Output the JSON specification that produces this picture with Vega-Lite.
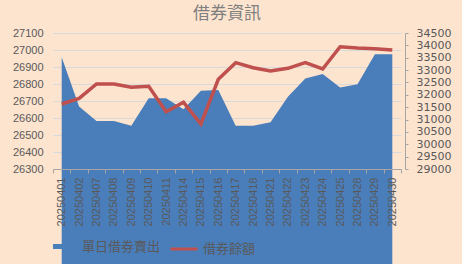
{
  "$schema": "https://vega.github.io/schema/vega-lite/v6.json",
  "autosize": "none",
  "width": 348,
  "height": 136,
  "padding": {"left": 53, "top": 33, "right": 61, "bottom": 95},
  "background": "#fde4cf",
  "title": {"text": "借券資訊", "font": "Noto Sans CJK TC", "fontSize": 17, "fontWeight": "normal", "color": "#7f7f7f", "offset": 4, "anchor": "middle"},
  "config": {
    "view": {"stroke": null},
    "axis": {"labelFont": "Liberation Sans", "labelColor": "#595959", "domainColor": "#a6a6a6", "tickColor": "#a6a6a6", "gridColor": "#d9d9d9"},
    "legend": {"labelFont": "Noto Sans CJK TC", "labelFontSize": 13, "labelColor": "#595959", "labelOffset": 4, "padding": 0}
  },
  "data": {"values": [
    {"date": "20250401", "sell": 26957, "balance": 31630},
    {"date": "20250402", "sell": 26667, "balance": 31858},
    {"date": "20250407", "sell": 26582, "balance": 32438},
    {"date": "20250408", "sell": 26582, "balance": 32438},
    {"date": "20250409", "sell": 26555, "balance": 32304},
    {"date": "20250410", "sell": 26716, "balance": 32344},
    {"date": "20250411", "sell": 26716, "balance": 31317},
    {"date": "20250414", "sell": 26652, "balance": 31697},
    {"date": "20250415", "sell": 26760, "balance": 30820},
    {"date": "20250416", "sell": 26765, "balance": 32627},
    {"date": "20250417", "sell": 26555, "balance": 33300},
    {"date": "20250418", "sell": 26555, "balance": 33097},
    {"date": "20250421", "sell": 26575, "balance": 32963},
    {"date": "20250422", "sell": 26725, "balance": 33071},
    {"date": "20250423", "sell": 26833, "balance": 33300},
    {"date": "20250424", "sell": 26859, "balance": 33044},
    {"date": "20250425", "sell": 26780, "balance": 33946},
    {"date": "20250428", "sell": 26798, "balance": 33893},
    {"date": "20250429", "sell": 26975, "balance": 33866},
    {"date": "20250430", "sell": 26975, "balance": 33812}
  ]},
  "encoding": {
    "x": {"field": "date", "type": "ordinal", "sort": null,
      "scale": {"type": "band", "paddingInner": 0, "paddingOuter": 0},
      "axis": {"title": null, "labelAngle": 270, "labelAlign": "right", "labelBaseline": "middle", "labelFontSize": 11, "labelOverlap": false, "labelBound": false, "labelLimit": 0, "labelSeparation": 0, "tickBand": "extent", "tickSize": 4, "labelPadding": 4, "grid": false, "zindex": 2}}
  },
  "layer": [
    {
      "mark": {"type": "area", "opacity": 1},
      "encoding": {
        "y": {"field": "sell", "type": "quantitative",
          "scale": {"domain": [26300, 27100], "nice": false, "zero": false},
          "axis": {"title": null, "format": "d", "values": [26300, 26400, 26500, 26600, 26700, 26800, 26900, 27000, 27100], "domain": false, "ticks": false, "labelPadding": 10, "labelFontSize": 11, "grid": true}},
        "fill": {"datum": "單日借券賣出", "type": "nominal",
          "scale": {"range": ["#4a7ebb"]},
          "legend": {"orient": "bottom", "direction": "horizontal", "offset": 8, "title": "　　　　", "titleOrient": "left", "titleFontSize": 17, "titlePadding": 0, "zindex": 3, "symbolType": "M-1,-0.2H1V0.2H-1Z", "symbolSize": 625, "symbolStrokeWidth": 0, "symbolOpacity": 1}}
      }
    },
    {
      "mark": {"type": "line", "strokeWidth": 3.5},
      "encoding": {
        "y": {"field": "balance", "type": "quantitative",
          "scale": {"domain": [29000, 34500], "nice": false, "zero": false},
          "axis": {"title": null, "format": "d", "orient": "right", "values": [29000, 29500, 30000, 30500, 31000, 31500, 32000, 32500, 33000, 33500, 34000, 34500], "labelOverlap": false, "grid": false, "offset": 4, "tickSize": 3, "labelPadding": 8, "labelFont": "DejaVu Sans", "labelFontSize": 11}},
        "stroke": {"datum": "借券餘額", "type": "nominal",
          "scale": {"range": ["#c0504d"]},
          "legend": {"orient": "bottom", "direction": "horizontal", "offset": 8, "title": "　", "titleOrient": "left", "titleFontSize": 12, "titlePadding": 0, "zindex": 3, "symbolType": "stroke", "symbolSize": 729, "symbolStrokeWidth": 3}}
      }
    }
  ],
  "resolve": {"scale": {"y": "independent", "fill": "independent", "stroke": "independent"}}
}
